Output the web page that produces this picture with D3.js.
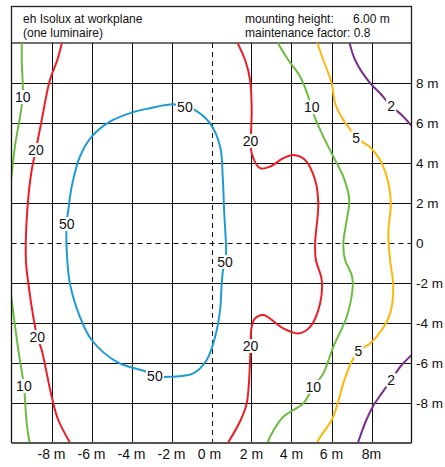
<!DOCTYPE html>
<html>
<head>
<meta charset="utf-8">
<script src="https://cdn.jsdelivr.net/npm/d3@7"></script>
<style>
  body { margin: 0; background: #fff; }
  svg { display: block; font-family: "Liberation Sans", Arial, sans-serif; }
</style>
</head>
<body>
<svg id="chart" width="445" height="467"></svg>
<script>
// ---- Data (metres) ----
const xTicks = [-8, -6, -4, -2, 0, 2, 4, 6, 8];
const xTickLabels = ["-8 m", "-6 m", "-4 m", "-2 m", "0 m", "2 m", "4 m", "6 m", "8m"];
const yTicks = [8, 6, 4, 2, 0, -2, -4, -6, -8];
const yTickLabels = ["8 m", "6 m", "4 m", "2 m", "0", "-2 m", "-4 m", "-6 m", "-8 m"];

const headerLeft = ["eh Isolux at workplane", "(one luminaire)"];
const headerRight = ["mounting height:", "maintenance factor: 0.8"];
const mountingHeight = "6.00 m";

// isolux 50 lx (closed)
const lux50 = [[-3.08,6.74],[-1.91,6.94],[-1.33,6.82],[-0.91,6.69],[-0.08,5.99],[0.43,4.82],[0.56,3.32],[0.63,1.65],[0.73,-0.52],[0.68,-0.94],[0.58,-1.35],[0.51,-2.02],[0.43,-3.35],[0.18,-4.69],[-0.24,-5.85],[-0.91,-6.52],[-2.08,-6.69],[-2.83,-6.65],[-3.24,-6.44],[-4.74,-5.94],[-5.99,-4.85],[-6.58,-3.69],[-7.08,-2.02],[-7.24,-0.35],[-7.24,1.0],[-7.16,1.65],[-6.99,2.82],[-6.58,4.32],[-5.99,5.32],[-5.08,6.07],[-3.99,6.52]];
// isolux 20 lx
const lux20Left = [[-7.43,10.2],[-7.71,9.15],[-8.08,8.15],[-8.49,6.15],[-8.78,4.65],[-8.99,3.65],[-9.21,1.65],[-9.28,-0.85],[-9.16,-2.0],[-8.91,-3.69],[-8.71,-4.7],[-8.49,-5.35],[-7.99,-7.69],[-7.66,-8.85],[-6.95,-10.2]];
const lux20Right = [[1.2,10.2],[1.68,9.15],[1.93,8.15],[2.01,6.65],[1.97,5.1],[2.01,4.49],[2.43,3.74],[2.93,3.82],[3.59,4.24],[4.09,4.4],[4.68,4.15],[5.18,3.15],[5.34,1.99],[5.18,-0.02],[5.22,-0.85],[5.51,-1.85],[5.43,-3.02],[4.93,-4.19],[4.34,-4.52],[3.59,-4.27],[2.59,-3.6],[2.18,-3.77],[2.01,-4.19],[1.95,-5.15],[1.93,-5.85],[1.76,-8.02],[1.46,-8.85],[0.7,-10.2]];
// isolux 10 lx
const lux10TopLeft = [[-9.48,10.2],[-9.49,9.15],[-9.44,7.3],[-9.83,4.82],[-10.05,2.9]];
const lux10BottomLeft = [[-10.05,-2.4],[-9.66,-5.35],[-9.38,-7.15],[-9.24,-9.02],[-9.06,-10.2]];
const lux10Right = [[3.2,10.2],[3.84,9.15],[4.43,8.32],[4.84,7.32],[5.01,6.79],[5.18,6.24],[5.59,5.32],[6.09,4.32],[6.59,3.32],[6.89,2.15],[6.76,1.15],[6.59,-0.02],[6.68,-0.85],[7.01,-1.6],[7.06,-2.19],[6.76,-3.69],[6.09,-5.19],[5.59,-6.52],[5.09,-7.19],[4.59,-8.02],[3.59,-8.69],[2.93,-9.69],[2.74,-10.2]];
// isolux 5 lx
const lux5 = [[5.22,10.2],[5.59,9.15],[6.01,7.99],[6.18,6.99],[6.59,6.15],[6.89,5.74],[7.23,5.25],[7.93,4.79],[8.59,3.82],[8.96,2.15],[8.84,0.49],[8.93,-0.85],[9.09,-2.19],[8.93,-3.52],[8.51,-4.35],[7.93,-5.02],[7.34,-5.39],[6.93,-6.1],[6.59,-7.02],[6.26,-8.19],[6.01,-8.85],[5.34,-9.85],[5.2,-10.2]];
// isolux 2 lx
const lux2Top = [[6.86,10.2],[7.18,9.15],[7.93,7.99],[8.43,7.49],[8.98,6.85],[9.51,6.4],[10.1,5.75]];
const lux2Bottom = [[10.1,-5.52],[9.51,-6.1],[8.98,-6.85],[8.51,-7.52],[8.08,-8.15],[7.72,-8.9],[7.25,-10.2]];

const contours = [
  {pts: lux50, color: "#1c9ad6", closed: true},
  {pts: lux20Left, color: "#ee1d25"},
  {pts: lux20Right, color: "#ee1d25"},
  {pts: lux10TopLeft, color: "#6abd3e"},
  {pts: lux10BottomLeft, color: "#6abd3e"},
  {pts: lux10Right, color: "#6abd3e"},
  {pts: lux5, color: "#ffb60a"},
  {pts: lux2Top, color: "#7b2d8e"},
  {pts: lux2Bottom, color: "#7b2d8e"}
];

// label positions (metres) and text
const contourLabels = [
  [-1.33, 6.82, "50"], [-7.24, 0.95, "50"], [0.68, -0.94, "50"], [-2.83, -6.65, "50"],
  [-8.78, 4.65, "20"], [-8.71, -4.7, "20"], [1.95, 5.1, "20"], [1.95, -5.15, "20"],
  [-9.44, 7.3, "10"], [-9.38, -7.15, "10"], [5.01, 6.79, "10"], [5.09, -7.19, "10"],
  [7.23, 5.25, "5"], [7.34, -5.39, "5"],
  [8.98, 6.85, "2"], [8.98, -6.85, "2"]
];

// ---- Drawing ----
const svg = d3.select("#chart");
const x = d3.scaleLinear().domain([-10, 10]).range([11.5, 411.5]);
const y = d3.scaleLinear().domain([-10, 10]).range([443, 43]);

// header box
svg.append("rect").attr("x", 11.5).attr("y", 6.5).attr("width", 400).attr("height", 36.5)
  .attr("fill", "none").attr("stroke", "#222").attr("stroke-width", 1.3);
const hdr = svg.append("g").attr("font-size", 12).attr("fill", "#111");
hdr.append("text").attr("x", 23).attr("y", 23).text(headerLeft[0]);
hdr.append("text").attr("x", 23).attr("y", 37).text(headerLeft[1]);
hdr.append("text").attr("x", 245).attr("y", 23).text(headerRight[0]);
hdr.append("text").attr("x", 353).attr("y", 23).text(mountingHeight);
hdr.append("text").attr("x", 245).attr("y", 37).text(headerRight[1]);

// grid
const grid = svg.append("g");
xTicks.filter(d => d !== 0).forEach(d => {
  grid.append("line").attr("x1", Math.round(x(d)) + 0.5).attr("x2", Math.round(x(d)) + 0.5)
    .attr("y1", y(10)).attr("y2", y(-10)).attr("stroke", "#111").attr("stroke-width", 1);
});
yTicks.filter(d => d !== 0).forEach(d => {
  grid.append("line").attr("y1", Math.round(y(d)) + 0.5).attr("y2", Math.round(y(d)) + 0.5)
    .attr("x1", x(-10)).attr("x2", x(10)).attr("stroke", "#111").attr("stroke-width", 1);
});
grid.append("line").attr("x1", Math.round(x(0)) + 0.5).attr("x2", Math.round(x(0)) + 0.5)
  .attr("y1", y(10)).attr("y2", y(-10)).attr("stroke", "#111").attr("stroke-dasharray", "5,4");
grid.append("line").attr("y1", y(0) + 0.5).attr("y2", y(0) + 0.5)
  .attr("x1", x(-10)).attr("x2", x(10)).attr("stroke", "#111").attr("stroke-dasharray", "5,4");

// clip
svg.append("clipPath").attr("id", "plotclip").append("rect")
  .attr("x", x(-10)).attr("y", y(10)).attr("width", x(10) - x(-10)).attr("height", y(-10) - y(10));

const lineOpen = d3.line().x(d => x(d[0])).y(d => y(d[1])).curve(d3.curveCatmullRom.alpha(0.5));
const lineClosed = d3.line().x(d => x(d[0])).y(d => y(d[1])).curve(d3.curveCatmullRomClosed.alpha(0.5));

const cg = svg.append("g").attr("clip-path", "url(#plotclip)");
contours.forEach(c => {
  cg.append("path").attr("d", (c.closed ? lineClosed : lineOpen)(c.pts))
    .attr("fill", "none").attr("stroke", c.color).attr("stroke-width", 2);
});

// labels with white background
const lg = svg.append("g").attr("font-size", 14).attr("fill", "#111");
contourLabels.forEach(([mx, my, t]) => {
  const g = lg.append("g");
  const txt = g.append("text").attr("x", x(mx)).attr("y", y(my)).attr("text-anchor", "middle")
    .attr("dy", "0.36em").text(t);
  const b = txt.node().getBBox();
  g.insert("rect", "text").attr("x", b.x - 1).attr("y", b.y + 1).attr("width", b.width + 2)
    .attr("height", b.height - 2).attr("fill", "#fff");
});

// frame
svg.append("line").attr("x1", x(-10)).attr("x2", x(-10)).attr("y1", y(10)).attr("y2", y(-10))
  .attr("stroke", "#111").attr("stroke-width", 1.3);
svg.append("line").attr("x1", x(10)).attr("x2", x(10)).attr("y1", y(10)).attr("y2", y(-10))
  .attr("stroke", "#111").attr("stroke-width", 1.3);
svg.append("line").attr("x1", x(-10)).attr("x2", x(10)).attr("y1", y(-10)).attr("y2", y(-10))
  .attr("stroke", "#555").attr("stroke-width", 2);

// axis labels
const ax = svg.append("g").attr("font-size", 14).attr("fill", "#111");
xTicks.forEach((d, i) => {
  ax.append("text").attr("x", x(d) - (d === 0 ? 2 : 0)).attr("y", 459).attr("text-anchor", "middle").text(xTickLabels[i]);
});
const ay = svg.append("g").attr("font-size", 13.5).attr("fill", "#111");
yTicks.forEach((d, i) => {
  ay.append("text").attr("x", 416).attr("y", y(d)).attr("dy", "0.36em").text(yTickLabels[i]);
});
</script>
</body>
</html>
